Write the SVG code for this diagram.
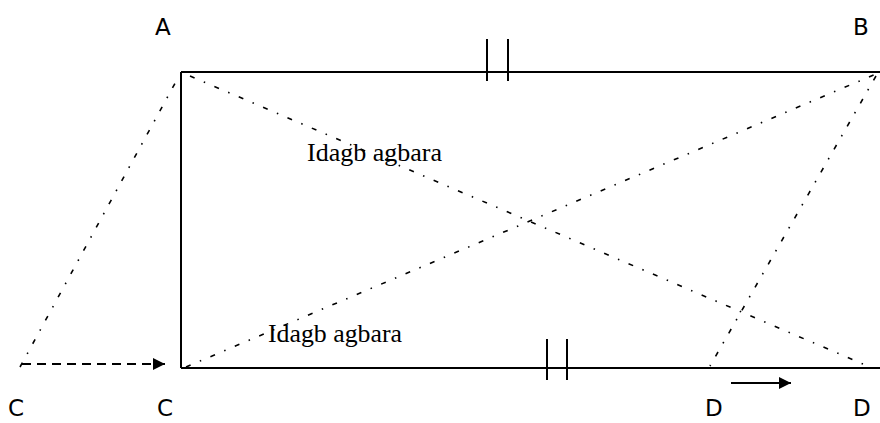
<svg xmlns="http://www.w3.org/2000/svg" width="880" height="423" viewBox="0 0 880 423">
<style>
.solid{stroke:#000;stroke-width:2;fill:none}
.tick{stroke:#000;stroke-width:2;fill:none}
.dd{stroke:#000;stroke-width:1.6;fill:none;stroke-dasharray:5 10 1.5 10}
.dash{stroke:#000;stroke-width:2;fill:none;stroke-dasharray:9 6}
.lbl{font-family:"DejaVu Sans","Liberation Sans",sans-serif;font-size:23px;fill:#000}
.word{font-family:"Liberation Serif","DejaVu Serif",serif;font-size:26px;fill:#000}
</style>
<defs>
<marker id="ah" viewBox="0 0 10 10" refX="10" refY="5" markerWidth="15" markerHeight="12" markerUnits="userSpaceOnUse" orient="auto">
<path d="M0,0 L10,5 L0,10 z" fill="#000"/>
</marker>
</defs>
<g id="connectors">
<line class="solid" x1="181" y1="72" x2="880" y2="72"/>
<line class="solid" x1="181" y1="72" x2="181" y2="368"/>
<line class="solid" x1="181" y1="368" x2="880" y2="368"/>
<line class="tick" x1="487" y1="39" x2="487" y2="81"/>
<line class="tick" x1="508" y1="39" x2="508" y2="81"/>
<line class="tick" x1="547" y1="339" x2="547" y2="380"/>
<line class="tick" x1="567" y1="339" x2="567" y2="380"/>
<line class="dd" x1="190" y1="76" x2="870" y2="367"/>
<line class="dd" x1="186" y1="367" x2="876" y2="74"/>
<line class="dd" x1="876" y1="76" x2="710" y2="366"/>
<line class="dd" x1="20" y1="367" x2="179" y2="76"/>
<line class="dash" x1="22" y1="364" x2="165" y2="364" marker-end="url(#ah)"/>
<line class="solid" x1="731" y1="383" x2="791" y2="383" marker-end="url(#ah)"/>
</g>
<g id="A"><text class="lbl" x="155" y="35">A</text></g>
<g id="B"><text class="lbl" x="853" y="35">B</text></g>
<g id="C1"><text class="lbl" x="8" y="416">C</text></g>
<g id="C2"><text class="lbl" x="157" y="416">C</text></g>
<g id="D1"><text class="lbl" x="705" y="416">D</text></g>
<g id="D2"><text class="lbl" x="853" y="416">D</text></g>
<g id="label-top"><text class="word" x="307" y="161" textLength="135" lengthAdjust="spacingAndGlyphs">Idagb agbara</text></g>
<g id="label-bottom"><text class="word" x="268" y="342" textLength="134" lengthAdjust="spacingAndGlyphs">Idagb agbara</text></g>
</svg>
